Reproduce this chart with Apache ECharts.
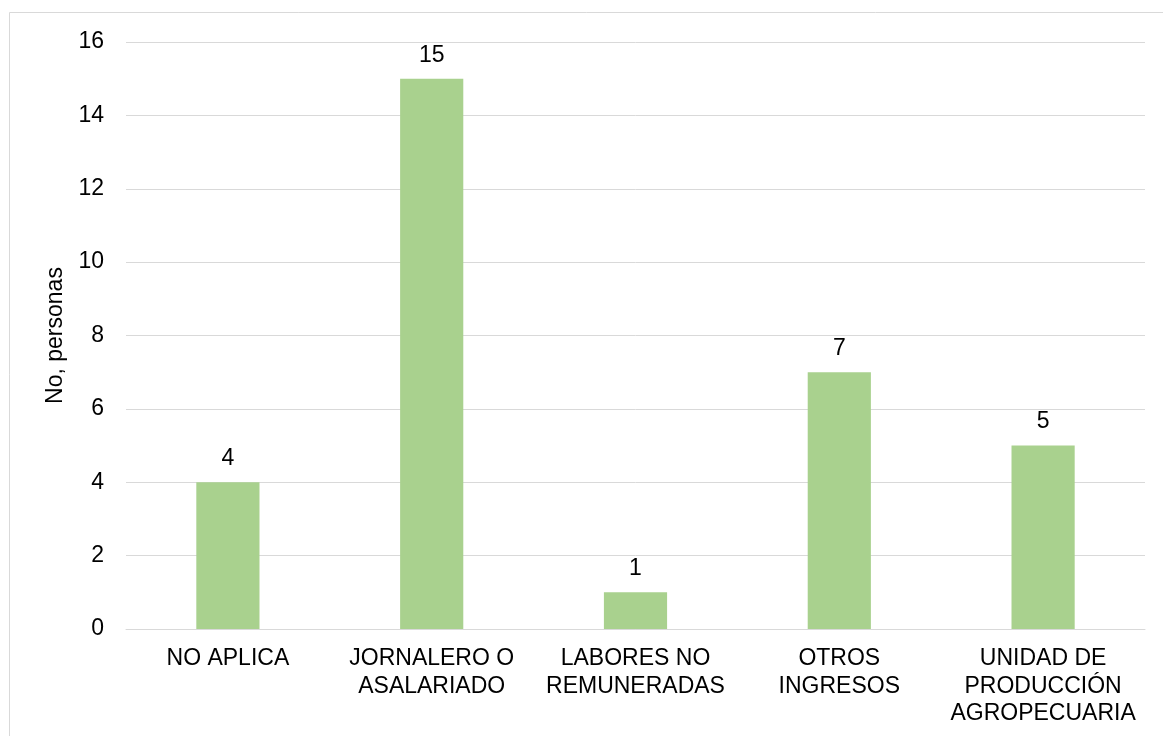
<!DOCTYPE html>
<html>
<head>
<meta charset="utf-8">
<script src="https://cdn.jsdelivr.net/npm/echarts@6/dist/echarts.min.js"></script>
<style>
  html, body { margin: 0; padding: 0; background: #fff; }
  #chart { width: 1163px; height: 736px; }
</style>
</head>
<body>
<div id="chart"></div>
<script>
// Source of income categories and number of people in each
const categories = [
  'NO APLICA',
  'JORNALERO O\nASALARIADO',
  'LABORES NO\nREMUNERADAS',
  'OTROS\nINGRESOS',
  'UNIDAD DE\nPRODUCCIÓN\nAGROPECUARIA'
];
const personas = [4, 15, 1, 7, 5];
const yTicks = { min: 0, max: 16, interval: 2 };
const yName = 'No, personas';

const font = '"Liberation Sans", Arial, sans-serif';
const chart = echarts.init(document.getElementById('chart'), null, { renderer: 'canvas' });
chart.setOption({
  backgroundColor: '#ffffff',
  animation: false,
  graphic: [{
    type: 'rect',
    shape: { x: 9.5, y: 12.5, width: 1170, height: 740 },
    style: { fill: 'none', stroke: '#d9d9d9', lineWidth: 1 },
    z: -1
  }],
  grid: { left: 126, right: 18, top: 42, bottom: 107 },
  xAxis: {
    type: 'category',
    data: categories,
    axisLine: { show: true, lineStyle: { color: '#d9d9d9', width: 1 } },
    axisTick: { show: false },
    axisLabel: {
      color: '#000', fontFamily: font, fontSize: 23, lineHeight: 27.5,
      margin: 16, interval: 0
    }
  },
  yAxis: {
    type: 'value',
    min: yTicks.min, max: yTicks.max, interval: yTicks.interval,
    name: yName,
    nameLocation: 'middle',
    nameGap: 55,
    nameTextStyle: { color: '#000', fontFamily: font, fontSize: 23 },
    axisLine: { show: false },
    axisTick: { show: false },
    axisLabel: { color: '#000', fontFamily: font, fontSize: 23, margin: 22 },
    splitLine: { lineStyle: { color: '#d9d9d9', width: 1 } }
  },
  series: [{
    type: 'bar',
    data: personas,
    barWidth: '31%',
    itemStyle: { color: '#a9d18e' },
    label: {
      show: true, position: 'top', distance: 12,
      color: '#000', fontFamily: font, fontSize: 23
    }
  }]
});
</script>
</body>
</html>
